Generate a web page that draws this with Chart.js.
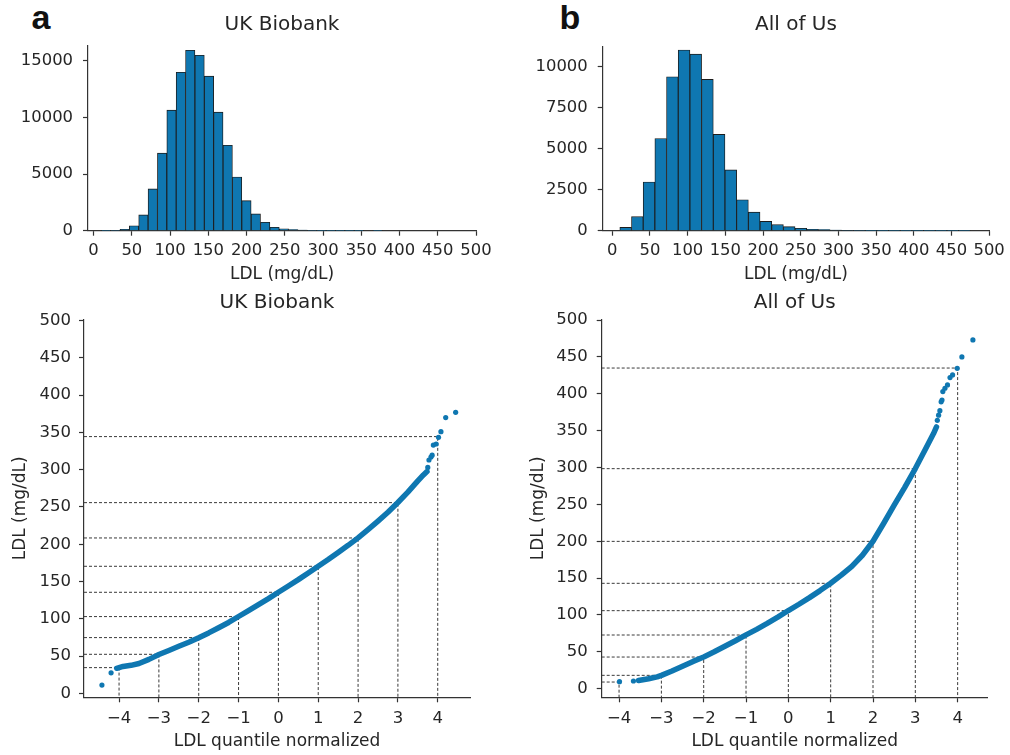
<!DOCTYPE html>
<html>
<head>
<meta charset="utf-8">
<script src="https://cdn.jsdelivr.net/npm/chart.js@4.4.1/dist/chart.umd.min.js"></script>
<style>
    body { margin: 0; background: #fff; width: 1010px; height: 755px; position: relative; overflow: hidden; }
    canvas { position: absolute; }
    .panel-label { position: absolute; font-family: "Liberation Sans", Arial, sans-serif; font-weight: bold; font-size: 34px; line-height: 1; color: #111; }
</style>
</head>
<body>
<div class="panel-label" style="left:31.5px;top:-0.5px">a</div>
<div class="panel-label" style="left:559.5px;top:-0.5px">b</div>
<canvas id="histUkb" width="505" height="290" style="left:0;top:0"></canvas>
<canvas id="histAou" width="505" height="290" style="left:505px;top:0"></canvas>
<canvas id="qqUkb" width="505" height="465" style="left:0;top:290px"></canvas>
<canvas id="qqAou" width="505" height="465" style="left:505px;top:290px"></canvas>
<script>
const FONT = '"DejaVu Sans", sans-serif';
const INK = '#262626';
const BLUE = '#0f77b1';

// histogram bins (left edge, mg/dL) and counts
const ukbBinWidth = 12.25;
const ukbBinEdges = [10, 22.25, 34.5, 46.75, 59, 71.25, 83.5, 95.75, 108, 120.25,
    132.5, 144.75, 157, 169.25, 181.5, 193.75, 206, 218.25, 230.5, 242.75,
    255, 267.25, 279.5, 291.75, 304, 316.25, 328.5, 340.75, 353, 365.25,
    377.5, 389.75, 402, 414.25, 426.5, 438.75, 451, 463.25, 475.5, 487.75];
const ukbCounts = [2, 20, 120, 440, 1400, 3700, 6850, 10650, 14000, 15940,
    15500, 13660, 10480, 7550, 4740, 2650, 1480, 750, 305, 165,
    90, 45, 22, 10, 6, 3, 4, 2, 0, 2,
    0, 0, 0, 0, 0, 0, 0, 0, 0, 0];

const aouBinWidth = 15.5;
const aouBinEdges = [10, 25.5, 41, 56.5, 72, 87.5, 103, 118.5, 134, 149.5,
    165, 180.5, 196, 211.5, 227, 242.5, 258, 273.5, 289, 304.5,
    320, 335.5, 351, 366.5, 382, 397.5, 413, 428.5, 444, 459.5];
const aouCounts = [205, 860, 2970, 5620, 9390, 11020, 10770, 9230, 5870, 3710,
    1890, 1130, 570, 370, 245, 150, 90, 70, 45, 20,
    12, 8, 5, 4, 3, 3, 4, 2, 1, 1];

const histXTicks = [0, 50, 100, 150, 200, 250, 300, 350, 400, 450, 500];
const ukbHistYTicks = [0, 5000, 10000, 15000];
const aouHistYTicks = [0, 2500, 5000, 7500, 10000];

// QQ plots: [normal quantile, LDL]; dense run drawn as a thick line, sparse tail as dots
const ukbQqCurve = [[-4.06, 33.5], [-3.9, 36], [-3.7, 37.5], [-3.5, 40], [-3.25, 45.5], [-3, 52],
    [-2.75, 57.5], [-2.5, 63], [-2.25, 68.5], [-2, 74.5], [-1.75, 81], [-1.5, 88], [-1.25, 95],
    [-1, 103], [-0.75, 111], [-0.5, 119], [-0.25, 127], [0, 135.5], [0.25, 144], [0.5, 152.5],
    [0.75, 161.5], [1, 170.5], [1.25, 179.5], [1.5, 189], [1.75, 198.5], [2, 208.5], [2.25, 219.5],
    [2.5, 231], [2.75, 243], [3, 256], [3.25, 270], [3.5, 285], [3.64, 293], [3.73, 297.5]];
const ukbQqTail = [[-4.43, 11], [-4.2, 27.5], [3.75, 303], [3.78, 313], [3.83, 317], [3.86, 319.5],
    [3.89, 333], [3.96, 334.5], [4.02, 343.5], [4.08, 351], [4.2, 370], [4.45, 377]];

const aouQqCurve = [[-3.54, 11], [-3.3, 13.5], [-3.1, 16], [-3, 18], [-2.75, 24], [-2.5, 30.5],
    [-2.25, 37], [-2, 43], [-1.75, 50], [-1.5, 57.5], [-1.25, 65], [-1, 73], [-0.75, 80.5],
    [-0.5, 88.5], [-0.25, 97], [0, 106], [0.25, 114.5], [0.5, 123.5], [0.75, 133], [1, 143],
    [1.25, 154], [1.5, 166], [1.75, 181], [2, 200], [2.25, 224], [2.5, 249], [2.75, 273],
    [3, 298.5], [3.25, 326], [3.43, 346], [3.5, 355]];
const aouQqTail = [[-3.99, 9.5], [-3.66, 10.4], [3.52, 364], [3.55, 371], [3.58, 377], [3.61, 389],
    [3.63, 391.5], [3.65, 403], [3.7, 407.5], [3.76, 412], [3.82, 422], [3.88, 425.5],
    [3.99, 434.5], [4.1, 450], [4.36, 473]];

// dashed guides at whole quantiles
const refQuantiles = [-4, -3, -2, -1, 0, 1, 2, 3, 4];
const ukbRefLdl = [34.4, 52.3, 74.7, 102.9, 135.5, 170.4, 208.4, 255.8, 344.4];
const aouRefLdl = [9, 18.1, 42.9, 72.8, 105.8, 142.9, 199.8, 298.4, 434.9];

const qqXTicks = [-4, -3, -2, -1, 0, 1, 2, 3, 4];
const qqYTicks = [0, 50, 100, 150, 200, 250, 300, 350, 400, 450, 500];

Chart.defaults.font.family = FONT;
Chart.defaults.color = INK;

function tickMarks() {
    return { display: true, drawOnChartArea: false, drawTicks: true, tickLength: 5, tickColor: '#333', tickWidth: 1.2, offset: false };
}
function spine() {
    return { display: true, color: '#333', width: 1.2 };
}
function fixedTicks(values) {
    return scale => { scale.ticks = values.map(v => ({ value: v })); };
}
function plainNumber(v) {
    return String(v);
}
function minusSign(v) {
    return v < 0 ? '\u2212' + Math.abs(v) : String(v);
}
function titleOpts(text, lay) {
    return {
        display: true, text: text, fullSize: false, color: INK,
        font: { family: FONT, size: 20, weight: 'normal' },
        padding: { top: lay.titleTop, bottom: lay.titleBottom }
    };
}

function drawHistogram(id, title, edges, binWidth, counts, yTicks, lay) {
    const data = counts.map((c, i) => ({ x: edges[i] + binWidth / 2, y: c }));
    new Chart(document.getElementById(id), {
        type: 'bar',
        data: {
            datasets: [{
                data: data, backgroundColor: BLUE, borderColor: '#1c1c1c', borderWidth: 0.9,
                barPercentage: 1, categoryPercentage: 1
            }]
        },
        options: {
            responsive: false, animation: false, events: [],
            layout: { padding: { left: 0, right: lay.right, top: 0, bottom: 0 } },
            plugins: { legend: { display: false }, tooltip: { enabled: false }, title: titleOpts(title, lay) },
            scales: {
                x: {
                    type: 'linear', offset: false, min: lay.xMin, max: 500,
                    afterFit: s => { s.height = lay.xHeight; },
                    afterBuildTicks: fixedTicks(histXTicks),
                    grid: tickMarks(), border: spine(),
                    ticks: { font: { size: 16.4 }, padding: 5.2, maxRotation: 0, autoSkip: false, callback: plainNumber },
                    title: { display: true, text: 'LDL (mg/dL)', font: { size: 17 }, padding: { top: 0, bottom: 4.8 } }
                },
                y: {
                    min: 0, max: lay.yMax,
                    afterFit: s => { s.width = lay.yWidth; },
                    afterBuildTicks: fixedTicks(yTicks),
                    grid: tickMarks(), border: spine(),
                    ticks: { font: { size: 16.4 }, padding: 10, callback: plainNumber }
                }
            }
        }
    });
}

function drawQq(id, title, curve, tail, refLdl, lay) {
    const datasets = [
        {
            data: curve.map(p => ({ x: p[0], y: p[1] })), showLine: true,
            borderColor: BLUE, borderWidth: 5.5, borderCapStyle: 'round', borderJoinStyle: 'round',
            pointRadius: 0, tension: 0
        },
        {
            data: tail.map(p => ({ x: p[0], y: p[1] })), showLine: false,
            pointRadius: 2.6, pointBackgroundColor: BLUE, pointBorderWidth: 0
        }
    ];
    refQuantiles.forEach((q, i) => {
        datasets.push({
            data: [{ x: lay.xMin, y: refLdl[i] }, { x: q, y: refLdl[i] }, { x: q, y: lay.yMin }],
            showLine: true, borderColor: '#3a3a3a', borderWidth: 1, borderDash: [3, 2], pointRadius: 0
        });
    });
    new Chart(document.getElementById(id), {
        type: 'scatter',
        data: { datasets: datasets },
        options: {
            responsive: false, animation: false, events: [],
            layout: { padding: { left: 0, right: lay.right, top: 0, bottom: 0 } },
            plugins: { legend: { display: false }, tooltip: { enabled: false }, title: titleOpts(title, lay) },
            scales: {
                x: {
                    type: 'linear', min: lay.xMin, max: lay.xMax,
                    afterFit: s => { s.height = lay.xHeight; },
                    afterBuildTicks: fixedTicks(qqXTicks),
                    grid: tickMarks(), border: spine(),
                    ticks: { font: { size: 16.5 }, padding: 6.2, maxRotation: 0, autoSkip: false, callback: minusSign },
                    title: { display: true, text: 'LDL quantile normalized', font: { size: 17 }, padding: { top: 0, bottom: 3.1 } }
                },
                y: {
                    min: lay.yMin, max: lay.yMax,
                    afterFit: s => { s.width = lay.yWidth; },
                    afterBuildTicks: fixedTicks(qqYTicks),
                    grid: tickMarks(), border: spine(),
                    ticks: { font: { size: 16.5 }, padding: lay.yTickPad, callback: plainNumber },
                    title: { display: true, text: 'LDL (mg/dL)', font: { size: 17 }, padding: { top: lay.yTitlePad, bottom: 0 } }
                }
            }
        }
    });
}

document.addEventListener("DOMContentLoaded", () => {
    drawHistogram('histUkb', 'UK Biobank', ukbBinEdges, ukbBinWidth, ukbCounts, ukbHistYTicks,
        { right: 29, titleTop: 13, titleBottom: 9, yWidth: 88, xHeight: 59.3, xMin: -7.3, yMax: 16316 });
    drawHistogram('histAou', 'All of Us', aouBinEdges, aouBinWidth, aouCounts, aouHistYTicks,
        { right: 18.3, titleTop: 13, titleBottom: 9.7, yWidth: 97.7, xHeight: 59.3, xMin: -12.7, yMax: 11220 });
    drawQq('qqUkb', 'UK Biobank', ukbQqCurve, ukbQqTail, ukbRefLdl,
        { right: 35, titleTop: 0.7, titleBottom: 4.6, yWidth: 84, xHeight: 57.7, xMin: -4.88, xMax: 4.81,
          yMin: -5.4, yMax: 501.8, yTickPad: 8, yTitlePad: 10.5 });
    drawQq('qqAou', 'All of Us', aouQqCurve, aouQqTail, aouRefLdl,
        { right: 22.3, titleTop: 0.7, titleBottom: 4.6, yWidth: 96.7, xHeight: 57.7, xMin: -4.41, xMax: 4.71,
          yMin: -11.7, yMax: 501, yTickPad: 9, yTitlePad: 23.1 });
});
</script>
</body>
</html>
